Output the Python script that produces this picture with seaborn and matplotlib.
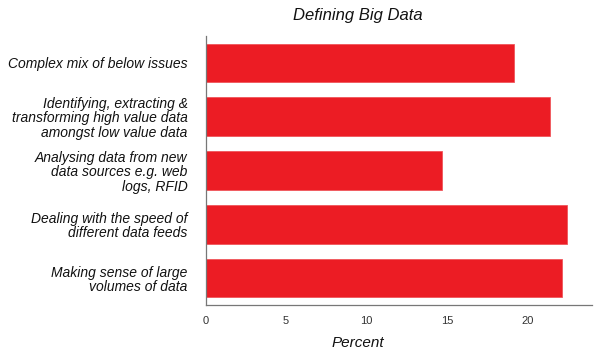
import seaborn as sns
import matplotlib.pyplot as plt
import pandas as pd

categories = [
    "Complex mix of below issues",
    "Identifying, extracting &\ntransforming high value data\namongst low value data",
    "Analysing data from new\ndata sources e.g. web\nlogs, RFID",
    "Dealing with the speed of\ndifferent data feeds",
    "Making sense of large\nvolumes of data",
]
percent = [19.2, 21.4, 14.7, 22.45, 22.15]
x_ticks = [0, 5, 10, 15, 20]

df = pd.DataFrame({"issue": categories, "percent": percent})

sns.set_style("white")
plt.rcParams["font.family"] = ["Liberation Sans", "DejaVu Sans"]

fig = plt.figure(figsize=(6, 3.55), dpi=100)
ax = fig.add_axes([205.7 / 600, 1 - 305 / 355, 386 / 600, 269 / 355])

sns.barplot(data=df, x="percent", y="issue", color="#ec1c24", saturation=1,
            width=0.72, edgecolor="#f0555b", linewidth=0.6, ax=ax)

ax.set_xlim(0, 24)
ax.set_ylim(4.5, -0.5)
ax.set_xticks(x_ticks)
ax.set_xticklabels([str(t) for t in x_ticks], fontsize=8, color="#333333")
ax.set_yticks(range(len(categories)))
ax.set_yticklabels(categories, fontsize=10, style="italic", color="#111111",
                   linespacing=1.05)
ax.tick_params(axis="x", direction="in", length=5, width=0.8, color="#555555", pad=8)
ax.tick_params(axis="y", length=0, pad=13)

for side in ["top", "right"]:
    ax.spines[side].set_visible(False)
for side in ["left", "bottom"]:
    ax.spines[side].set_color("#777777")
    ax.spines[side].set_linewidth(0.9)

ax.set_xlabel("Percent", fontsize=11, style="italic", color="#111111")
ax.xaxis.set_label_coords(0.393, -0.115)
ax.set_ylabel("")
ax.set_title("Defining Big Data", fontsize=12, style="italic", color="#111111",
             x=0.393, y=1.03)

fig.savefig("out.png", dpi=100)
